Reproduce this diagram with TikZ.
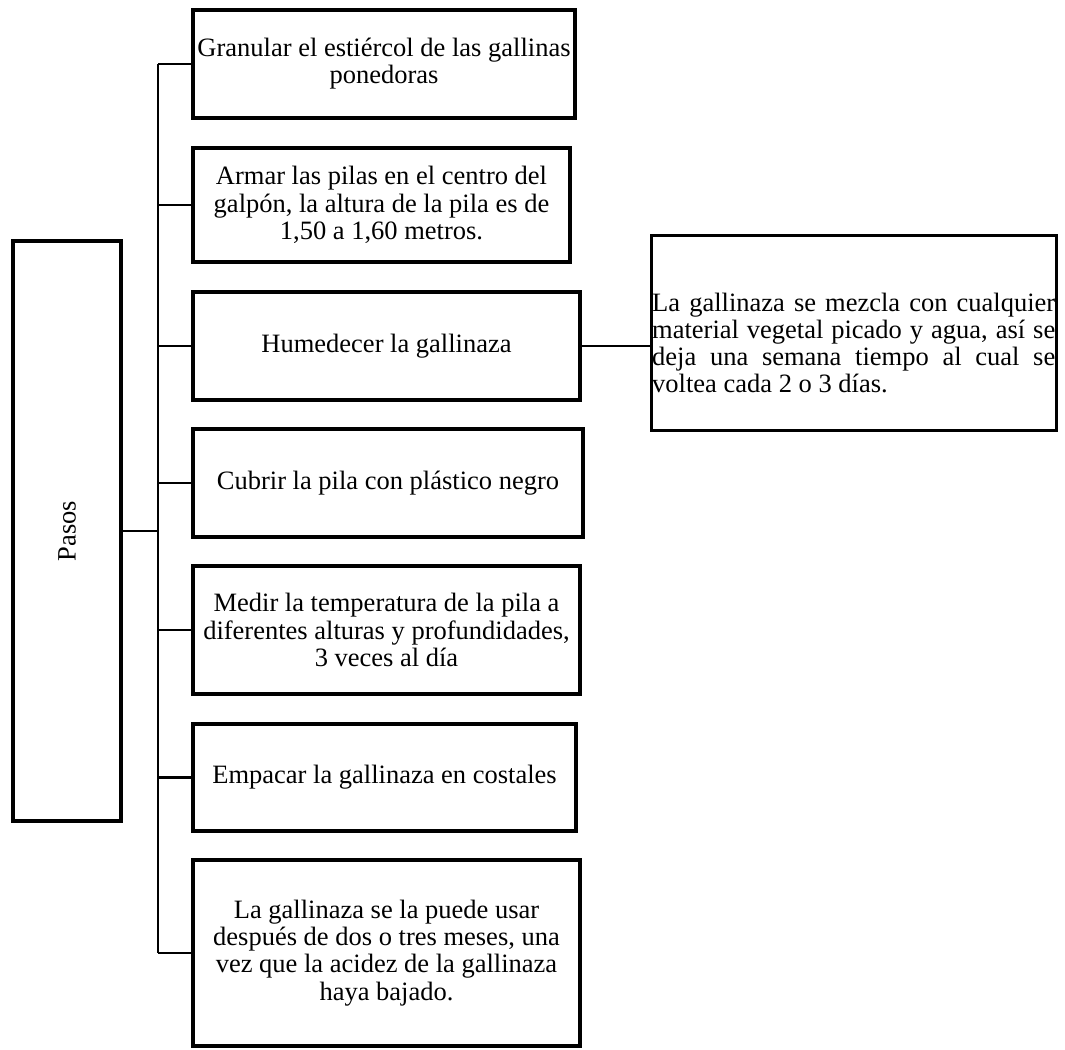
\documentclass[tikz,border=0pt]{standalone}
\usepackage{fontspec}
\setmainfont{Liberation Serif}
\tikzset{
  stepbox/.style={draw=black, line width=3.5pt, inner sep=0pt, align=center,
    font=\fontsize{26.5}{27.2}\selectfont},
  conn/.style={draw=black, line width=2.2pt},
}
\begin{document}
\begin{tikzpicture}[x=1pt, y=-1pt]
\useasboundingbox[fill=white] (0,0) rectangle (1065,1049);
% main box
\node[stepbox, minimum width=108pt, minimum height=580pt] (pasos) at (67,531) {};
\node[rotate=90, font=\fontsize{26.5}{27.2}\selectfont, inner sep=0pt] (pasostxt) at (67,531) {Pasos};
% step boxes
\node[stepbox, minimum width=382pt, minimum height=108pt] (b1) at (384,64)
  {Granular el estiércol de las gallinas\\ponedoras};
\node[stepbox, minimum width=377pt, minimum height=114pt] (b2) at (381.5,205)
  {Armar las pilas en el centro del\\galpón, la altura de la pila es de\\1,50 a 1,60 metros.};
\node[stepbox, minimum width=387pt, minimum height=108pt] (b3) at (386.5,346)
  {Humedecer la gallinaza};
\node[stepbox, minimum width=390pt, minimum height=108pt] (b4) at (388,483)
  {Cubrir la pila con plástico negro};
\node[stepbox, minimum width=387pt, minimum height=128pt] (b5) at (386.5,630)
  {Medir la temperatura de la pila a\\diferentes alturas y profundidades,\\3 veces al día};
\node[stepbox, minimum width=383pt, minimum height=107pt] (b6) at (384.5,777.5)
  {Empacar la gallinaza en costales};
\node[stepbox, minimum width=387pt, minimum height=186pt] (b7) at (386.5,953)
  {La gallinaza se la puede usar\\después de dos o tres meses, una\\vez que la acidez de la gallinaza\\haya bajado.};
% right box
\node[draw=black, line width=3pt, minimum width=405pt, minimum height=195pt, inner sep=0pt] (rbox) at (853.5,332.5) {};
\node[inner sep=0pt, text width=403pt, align=justify, anchor=west,
  font=\fontsize{26.5}{27.2}\selectfont] (rtext) at (652,343)
  {\hyphenpenalty=10000 \tolerance=10000 La gallinaza se mezcla con cualquier\linebreak material vegetal picado y agua, así se\linebreak deja una semana tiempo al cual se\linebreak voltea cada 2 o 3 días.};
% connectors
\coordinate (stem) at (158,0);
\draw[conn] (b1.west -| stem) -- (b7.west -| stem);
\foreach \b in {b1,b2,b3,b4,b5,b6,b7}{
  \draw[conn] (\b.west -| stem) -- (\b.west);
}
\draw[conn] (pasos.east) -- (pasos.east -| stem);
\draw[conn] (b3.east) -- (b3.east -| rbox.west);
\end{tikzpicture}
\end{document}
